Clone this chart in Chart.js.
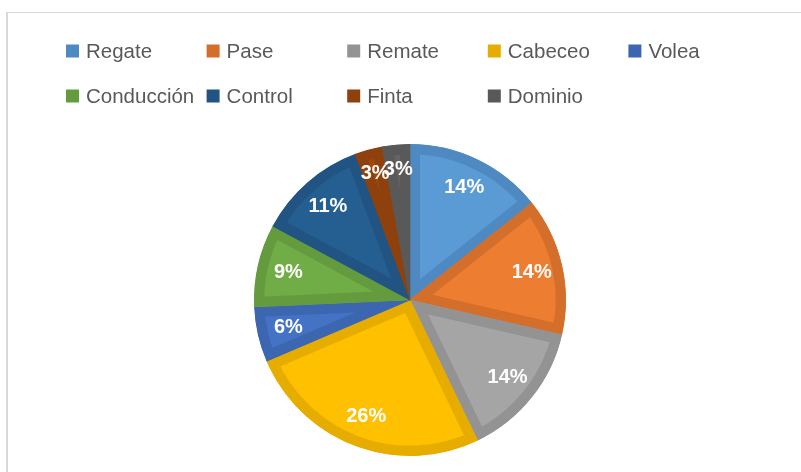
<!DOCTYPE html>
<html>
<head>
<meta charset="utf-8">
<script src="https://cdn.jsdelivr.net/npm/chart.js@4"></script>
<style>
  html, body { margin: 0; padding: 0; background: #fff; }
  #wrap { width: 801px; height: 472px; }
</style>
</head>
<body>
<div id="wrap"><canvas id="pieChart" width="801" height="472"></canvas></div>
<script>
// Chart data
const categories = ['Regate', 'Pase', 'Remate', 'Cabeceo', 'Volea', 'Conducción', 'Control', 'Finta', 'Dominio'];
const counts = [5, 5, 5, 9, 2, 3, 4, 1, 1];
const fillColors = ['#5B9BD5', '#ED7D31', '#A5A5A5', '#FFC000', '#4472C4', '#70AD47', '#255E91', '#9E480E', '#636363'];
const edgeColors = ['#4F89C1', '#D46E2B', '#939393', '#E6AD00', '#3D66B0', '#649B3F', '#215483', '#8E410D', '#595959'];

// Frame round the chart
const framePlugin = {
    id: 'frame',
    beforeDraw(chart) {
        const ctx = chart.ctx;
        ctx.save();
        ctx.strokeStyle = '#D9D9D9';
        ctx.lineWidth = 1;
        ctx.beginPath();
        ctx.moveTo(6.5, 900);
        ctx.lineTo(6.5, 12.5);
        ctx.lineTo(900, 12.5);
        ctx.stroke();
        ctx.fillStyle = '#D9D9D9';
        ctx.fillRect(6, 12, 2, 460);
        ctx.restore();
    }
};

// Legend laid out in a grid, like the original
const gridLegend = {
    id: 'gridLegend',
    afterDraw(chart) {
        const ctx = chart.ctx;
        const ds = chart.data.datasets[0];
        ctx.save();
        ctx.font = '20.5px "Liberation Sans", Arial, sans-serif';
        ctx.textBaseline = 'middle';
        chart.data.labels.forEach((label, i) => {
            const col = i < 5 ? i : i - 5;
            const row = i < 5 ? 0 : 1;
            const x = 66 + col * 140.6;
            const y = 51 + row * 45;
            ctx.fillStyle = ds.borderColor[i];
            ctx.fillRect(x, y - 6.5, 13, 13);
            ctx.fillStyle = '#595959';
            ctx.fillText(label, x + 20, y + 1);
        });
        ctx.restore();
    }
};

// Percent labels inside each slice
const pctLabels = {
    id: 'pctLabels',
    afterDatasetsDraw(chart) {
        const ctx = chart.ctx;
        const values = chart.data.datasets[0].data;
        const total = values.reduce((a, b) => a + b, 0);
        ctx.save();
        ctx.font = 'bold 20px "Liberation Sans", Arial, sans-serif';
        ctx.fillStyle = '#FFFFFF';
        ctx.textAlign = 'center';
        ctx.textBaseline = 'middle';
        chart.getDatasetMeta(0).data.forEach((arc, i) => {
            const p = arc.getProps(['x', 'y', 'startAngle', 'endAngle', 'outerRadius'], true);
            const mid = (p.startAngle + p.endAngle) / 2;
            const r = p.outerRadius * (values[i] / total < 0.05 ? 0.84 : 0.8);
            const pct = Math.round(values[i] / total * 100) + '%';
            ctx.fillText(pct, p.x + Math.cos(mid) * r, p.y + Math.sin(mid) * r);
        });
        ctx.restore();
    }
};

const ctx = document.getElementById('pieChart').getContext('2d');
new Chart(ctx, {
    type: 'pie',
    data: {
        labels: categories,
        datasets: [{
            data: counts,
            backgroundColor: fillColors,
            borderColor: edgeColors,
            borderWidth: 10,
            borderAlign: 'inner',
            hoverOffset: 0
        }]
    },
    options: {
        responsive: false,
        animation: false,
        radius: 156,
        layout: {
            padding: { left: 254, right: 235, top: 144, bottom: 16 }
        },
        plugins: {
            legend: { display: false },
            tooltip: { enabled: false }
        }
    },
    plugins: [framePlugin, gridLegend, pctLabels]
});
</script>
</body>
</html>
